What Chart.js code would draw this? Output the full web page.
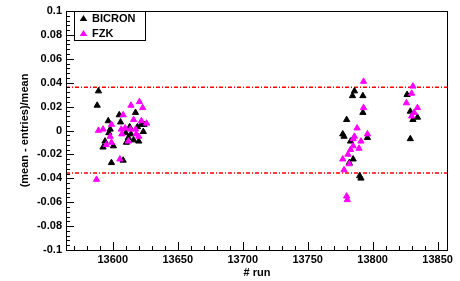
<!DOCTYPE html>
<html>
<head>
<meta charset="utf-8">
<script src="https://cdn.jsdelivr.net/npm/chart.js@4/dist/chart.umd.min.js"></script>
<style>
  html, body { margin: 0; padding: 0; background: #fff; }
  #wrap { width: 460px; height: 281px; }
</style>
</head>
<body>
<div id="wrap"><canvas id="graph"></canvas></div>
<script>
// Data

const bicronRuns = [13589, 13588, 13605, 13617.5, 13596.5, 13606, 13613, 13619, 13622, 13598,
    13610, 13614, 13623.5, 13597, 13616, 13620, 13610.5, 13594, 13592.5, 13600.5,
    13599, 13608, 13612, 13624,
    13786, 13784.5, 13792.5, 13792.5, 13780, 13777, 13778, 13796, 13783, 13785,
    13782, 13790, 13791, 13826.5, 13829, 13834.5, 13831, 13829];
const bicronValues = [0.033, 0.021, 0.013, 0.015, 0.008, 0.007, 0.003, 0.003, 0.005, 0.001,
    -0.002, -0.003, -0.001, -0.002, -0.008, -0.009, -0.010, -0.009, -0.014, -0.013,
    -0.027, -0.025, -0.006, 0.005,
    0.033, 0.029, 0.029, 0.015, 0.009, -0.003, -0.005, -0.006, -0.009, -0.024,
    -0.027, -0.038, -0.040, 0.030, 0.016, 0.011, 0.009, -0.007];

const fzkRuns = [13614, 13620.5, 13623, 13608, 13616, 13622, 13589, 13592.5, 13599, 13606.5,
    13609.5, 13613.5, 13617.5, 13607, 13618, 13598, 13620, 13599, 13595, 13612,
    13605.5, 13587.5, 13626,
    13793, 13793, 13788, 13796, 13786, 13785, 13791, 13785, 13783, 13789.5,
    13781, 13777, 13782, 13778, 13780, 13780.5,
    13831, 13830, 13826, 13834.5, 13832, 13830];
const fzkValues = [0.021, 0.024, 0.019, 0.013, 0.009, 0.008, 0.000, 0.001, 0.005, 0.001,
    0.002, 0.001, 0.001, -0.003, -0.003, -0.005, -0.005, -0.010, -0.012, -0.009,
    -0.024, -0.041, 0.006,
    0.041, 0.019, 0.002, -0.003, -0.005, -0.007, -0.009, -0.013, -0.016, -0.015,
    -0.020, -0.024, -0.028, -0.033, -0.055, -0.058,
    0.037, 0.031, 0.023, 0.019, 0.015, 0.012];

const cutLevels = [0.0362, -0.0355];

const xRange = [13564, 13858];
const yRange = [-0.1, 0.1];
const xTicks = [13600, 13650, 13700, 13750, 13800, 13850];
const yTicks = [-0.1, -0.08, -0.06, -0.04, -0.02, 0, 0.02, 0.04, 0.06, 0.08, 0.1];

const FONT = "'Liberation Sans', Arial, Helvetica, sans-serif";

// Builds {x, y} points out of two arrays
function toPoints(xs, ys) {
    let pts = [];
    for (let i = 0; i < xs.length; i++) {
        pts.push({ x: xs[i], y: ys[i] });
    }
    return pts;
}

function markerSet(label, xs, ys, color, order) {
    return {
        label: label,
        data: toPoints(xs, ys),
        showLine: false,
        pointStyle: "triangle",
        pointRadius: 3.6,
        pointBorderWidth: 1,
        backgroundColor: color,
        borderColor: color,
        order: order
    };
}

function cutLine(level) {
    return {
        label: "",
        data: [{ x: xRange[0], y: level }, { x: xRange[1], y: level }],
        showLine: true,
        borderColor: "#ff0000",
        borderWidth: 1.5,
        borderDash: [4, 2, 1, 2],
        pointRadius: 0,
        order: 3
    };
}

// Frame, inward ticks and axis titles the way ROOT draws them
const frame = {
    id: "frame",
    afterDatasetsDraw(chart) {
        let ctx = chart.ctx;
        let a = chart.chartArea;
        let xs = chart.scales.x;
        let ys = chart.scales.y;
        ctx.save();
        ctx.strokeStyle = "#000";
        ctx.lineWidth = 1;
        ctx.strokeRect(Math.round(a.left) + 0.5, Math.round(a.top) + 0.5,
            Math.round(a.right - a.left) - 1, Math.round(a.bottom - a.top));

        ctx.beginPath();
        // y ticks, 5 secondary divisions
        for (let i = 0; i <= 50; i++) {
            let v = yRange[0] + i * 0.004;
            let py = Math.round(ys.getPixelForValue(v)) + 0.5;
            let len = (i % 5 === 0) ? 8 : 4;
            ctx.moveTo(a.left, py);
            ctx.lineTo(a.left + len, py);
        }
        // x ticks every 10 runs, longer every 50
        for (let v = 13570; v <= xRange[1]; v += 10) {
            let px = Math.round(xs.getPixelForValue(v)) + 0.5;
            let len = (v % 50 === 0) ? 8 : 4;
            ctx.moveTo(px, a.bottom);
            ctx.lineTo(px, a.bottom - len);
        }
        ctx.stroke();

        // axis titles
        ctx.fillStyle = "#000";
        ctx.font = "bold 11px " + FONT;
        ctx.textAlign = "center";
        ctx.textBaseline = "middle";
        ctx.fillText("# run", (a.left + a.right) / 2, 273);
        ctx.translate(25, (a.top + a.bottom) / 2);
        ctx.rotate(-Math.PI / 2);
        ctx.fillText("(mean - entries)/mean", 0, 0);
        ctx.restore();
    },
    afterDraw(chart) {
        // legend box
        let ctx = chart.ctx;
        ctx.save();
        ctx.fillStyle = "#fff";
        ctx.fillRect(74.5, 11.5, 71, 29);
        ctx.strokeStyle = "#000";
        ctx.lineWidth = 1;
        ctx.strokeRect(74.5, 11.5, 71, 29);
        let sets = chart.data.datasets.slice(0, 2);
        sets.forEach(function (ds, i) {
            let cy = 18.5 + i * 15;
            ctx.fillStyle = ds.backgroundColor;
            ctx.beginPath();
            ctx.moveTo(83.5, cy - 3.5);
            ctx.lineTo(87.3, cy + 2.5);
            ctx.lineTo(79.7, cy + 2.5);
            ctx.closePath();
            ctx.fill();
            ctx.fillStyle = "#000";
            ctx.font = "bold 11px " + FONT;
            ctx.textAlign = "left";
            ctx.textBaseline = "middle";
            ctx.fillText(ds.label, 92, cy);
        });
        ctx.restore();
    }
};

let ctx = document.getElementById("graph");
let chart = new Chart(ctx, {
    type: "scatter",
    data: {
        datasets: [
            markerSet("BICRON", bicronRuns, bicronValues, "#000000", 2),
            markerSet("FZK", fzkRuns, fzkValues, "#ff00ff", 1),
            cutLine(cutLevels[0]),
            cutLine(cutLevels[1])
        ]
    },
    options: {
        responsive: true,
        maintainAspectRatio: false,
        animation: false,
        layout: { padding: { top: 11, right: 12, left: 0, bottom: 0 } },
        plugins: {
            legend: { display: false },
            tooltip: { enabled: false }
        },
        scales: {
            x: {
                type: "linear",
                min: xRange[0],
                max: xRange[1],
                afterBuildTicks: function (s) { s.ticks = xTicks.map(v => ({ value: v })); },
                afterFit: function (s) { s.height = 31; },
                grid: { display: false, drawTicks: false },
                border: { display: false },
                ticks: {
                    padding: 3,
                    color: "#000",
                    font: { family: FONT, size: 11, weight: "bold" },
                    callback: v => String(v)
                }
            },
            y: {
                type: "linear",
                min: yRange[0],
                max: yRange[1],
                afterBuildTicks: function (s) { s.ticks = yTicks.map(v => ({ value: v })); },
                afterFit: function (s) { s.width = 66; },
                grid: { display: false, drawTicks: false },
                border: { display: false },
                ticks: {
                    padding: 4,
                    color: "#000",
                    font: { family: FONT, size: 11, weight: "bold" },
                    callback: v => String(Math.round(v * 100) / 100)
                }
            }
        }
    },
    plugins: [frame]
});
</script>
</body>
</html>
